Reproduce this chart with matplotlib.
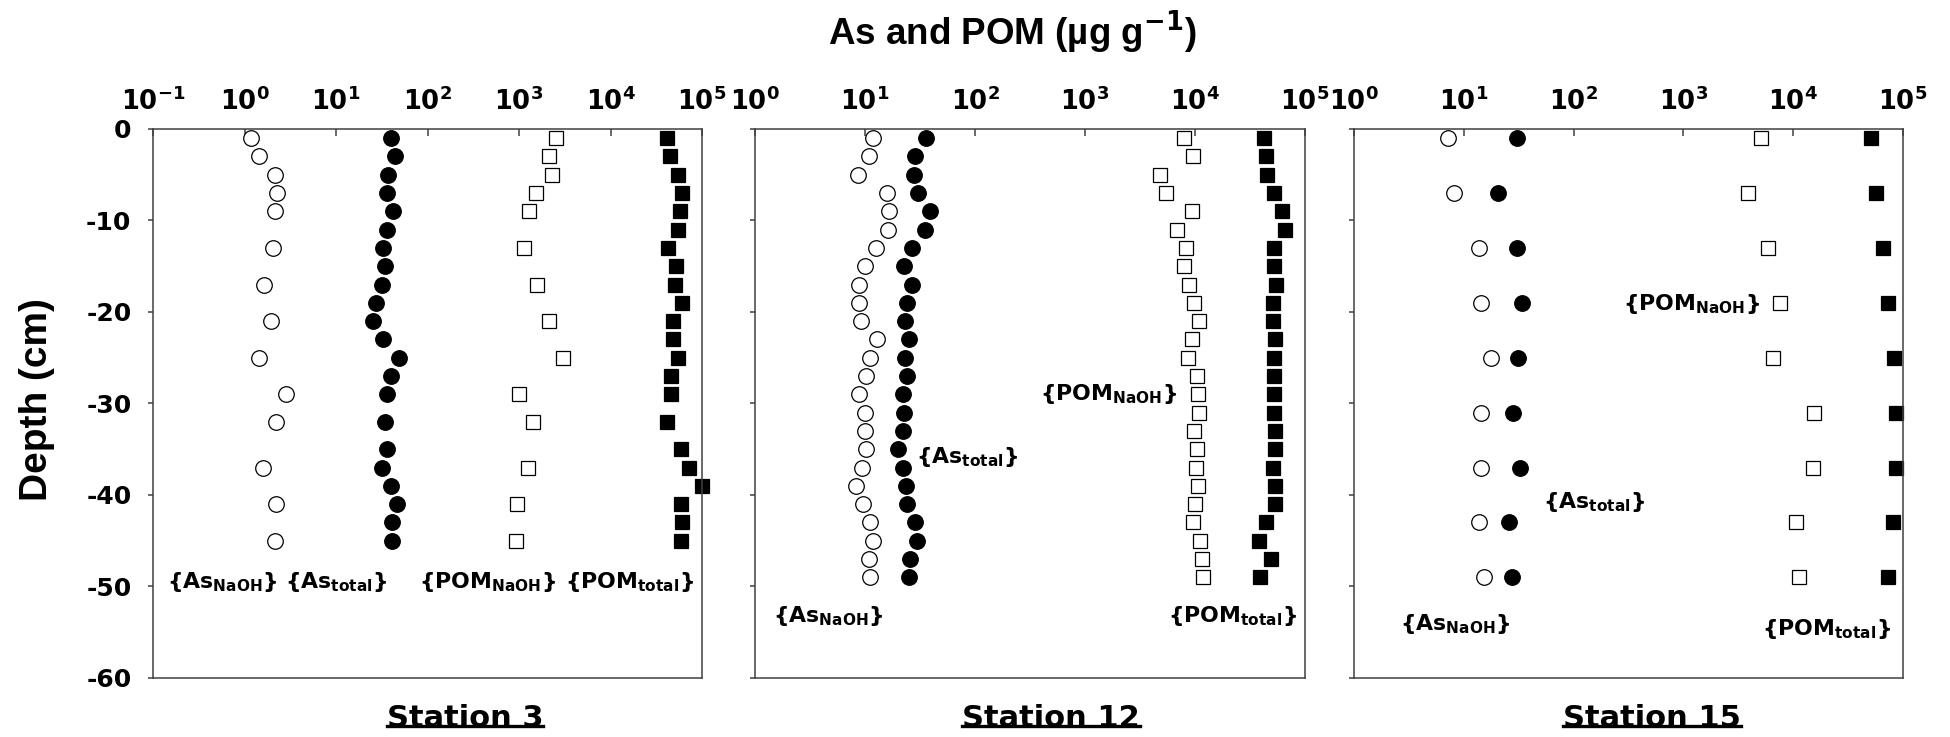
## depth profiles of As and POM at three stations
import matplotlib
matplotlib.use('Agg')
import matplotlib.pyplot as plt
from matplotlib.lines import Line2D
from matplotlib.ticker import FixedLocator, NullLocator

plt.rcParams['font.family'] = ['DejaVu Sans']
plt.rcParams['font.weight'] = 'bold'
plt.rcParams['mathtext.fontset'] = 'custom'
plt.rcParams['mathtext.rm'] = 'DejaVu Sans:bold'
plt.rcParams['mathtext.it'] = 'DejaVu Sans:bold'
plt.rcParams['mathtext.bf'] = 'DejaVu Sans:bold'
plt.rcParams['mathtext.default'] = 'rm'
plt.rcParams['axes.unicode_minus'] = False

##data (depth in cm, values in ug/g)
# Station 3
depth_sparse_3 = [-1, -3, -5, -7, -9, -13, -17, -21, -25, -29, -32, -37, -41, -45]
depth_full_3 = [-1, -3, -5, -7, -9, -11, -13, -15, -17, -19, -21, -23, -25, -27, -29,
                -32, -35, -37, -39, -41, -43, -45]
as_naoh_3 = [1.18, 1.45, 2.15, 2.29, 2.15, 2.07, 1.65, 1.93, 1.45, 2.81, 2.23, 1.59, 2.23, 2.14]
as_total_3 = [39.6, 43.6, 37.3, 36.4, 42.1, 36.4, 32.3, 34.3, 31.6, 27.3, 25.4, 32.3, 49.2,
              40.1, 35.6, 34.7, 36.4, 31.6, 40.1, 46.4, 41.1, 41.1]
pom_naoh_3 = [2550, 2150, 2320, 1540, 1270, 1120, 1560, 2100, 3020, 1000, 1410, 1240, 940, 917]
pom_total_3 = [41600, 44200, 55000, 59700, 57600, 54300, 42600, 51800, 50500, 59700, 48700,
               48700, 54300, 45800, 46400, 41100, 58300, 71600, 99000, 59000, 59700, 58300]

# Station 12
depth_12 = [-1, -3, -5, -7, -9, -11, -13, -15, -17, -19, -21, -23, -25, -27, -29, -31,
            -33, -35, -37, -39, -41, -43, -45, -47, -49]
as_naoh_12 = [11.7, 10.8, 8.7, 15.7, 16.4, 16.0, 12.6, 10.0, 8.9, 8.9, 9.2, 12.9, 11.1,
              10.2, 8.9, 10.0, 10.0, 10.2, 9.3, 8.3, 9.6, 11.1, 11.9, 10.8, 11.1]
as_total_12 = [35.9, 28.4, 28.1, 30.1, 39.1, 34.9, 26.9, 22.8, 26.5, 24.3, 23.2, 25.3, 23.2,
               24.3, 22.2, 22.6, 21.9, 19.9, 22.2, 23.6, 24.3, 28.4, 29.4, 25.8, 24.9]
pom_naoh_12 = [7980, 9580, 4780, 5490, 9410, 6890, 8190, 7980, 8780, 9740, 10800, 9410, 8630,
               10500, 10600, 10800, 9820, 10300, 10200, 10600, 10000, 9580, 11100, 11600, 11800]
pom_total_12 = [42000, 44200, 44600, 51700, 61000, 65400, 51700, 51700, 54000, 50900, 50900,
                53100, 51700, 52500, 52500, 52500, 53100, 53100, 50900, 52800, 53100, 43800,
                38100, 48600, 39100]

# Station 15
depth_15 = [-1, -7, -13, -19, -25, -31, -37, -43, -49]
as_naoh_15 = [7.2, 8.2, 13.8, 14.4, 17.5, 14.3, 14.3, 13.7, 15.1]
as_total_15 = [30.2, 20.4, 30.2, 33.6, 31.3, 27.9, 32.4, 25.6, 27.5]
pom_naoh_15 = [5070, 3900, 5930, 7500, 6520, 15400, 15000, 10600, 11400]
pom_total_15 = [51200, 56900, 65900, 72500, 82600, 85500, 85500, 81900, 72500]

depth_ticks = [0, -10, -20, -30, -40, -50, -60]
station_names = ['Station 3', 'Station 12', 'Station 15']

lbl_as_naoh = r'$\{As_{NaOH}\}$'
lbl_as_total = r'$\{As_{total}\}$'
lbl_pom_naoh = r'$\{POM_{NaOH}\}$'
lbl_pom_total = r'$\{POM_{total}\}$'

spinecol = '#404040'


def plotStation(ax, first_dec, d_naoh, as_naoh, pom_naoh, d_tot, as_tot, pom_tot, labelpos, showy):
    ##open symbols = NaOH extractable, filled = total
    ax.plot(as_naoh, d_naoh, linestyle='none', marker='o', ms=11.2, mfc='white',
            mec='black', mew=0.9, clip_on=False)
    ax.plot(as_tot, d_tot, linestyle='none', marker='o', ms=11.2, mfc='black',
            mec='black', mew=0.9, clip_on=False)
    ax.plot(pom_naoh, d_naoh, linestyle='none', marker='s', ms=9.6, mfc='white',
            mec='black', mew=0.9, clip_on=False)
    ax.plot(pom_tot, d_tot, linestyle='none', marker='s', ms=9.6, mfc='black',
            mec='black', mew=0.9, clip_on=False)

    ax.set_xscale('log')
    ax.set_xlim(10.0 ** first_dec, 1e5)
    ax.set_ylim(-60, 0)

    decs = list(range(first_dec, 6))
    ax.xaxis.tick_top()
    ax.xaxis.set_major_locator(FixedLocator([10.0 ** k for k in decs]))
    ax.xaxis.set_minor_locator(NullLocator())
    ax.set_xticklabels([r'$10^{%d}$' % k for k in decs])
    ax.tick_params(axis='x', direction='in', length=5, width=1.1, color=spinecol,
                   labelsize=18.5, pad=9)

    ax.set_yticks(depth_ticks)
    ax.tick_params(axis='y', direction='out', length=3.6, width=1.1, color=spinecol,
                   labelsize=18, pad=12, labelleft=showy)

    for s in ax.spines.values():
        s.set_color(spinecol)
        s.set_linewidth(1.1)

    for txt, (xf, yf) in labelpos.items():
        ax.text(xf, yf, txt, transform=ax.transAxes, fontsize=15.8,
                ha='left', va='baseline')


fig = plt.figure(figsize=(19.5, 7.37), dpi=100)

ax1 = fig.add_axes([0.0785, 0.0801, 0.2815, 0.7449])
ax2 = fig.add_axes([0.3872, 0.0801, 0.2821, 0.7449])
ax3 = fig.add_axes([0.6944, 0.0801, 0.2815, 0.7449])

plotStation(ax1, -1, depth_sparse_3, as_naoh_3, pom_naoh_3, depth_full_3, as_total_3, pom_total_3,
            {lbl_as_naoh: (0.026, 0.164), lbl_as_total: (0.240, 0.164),
             lbl_pom_naoh: (0.485, 0.164), lbl_pom_total: (0.750, 0.164)}, True)
plotStation(ax2, 0, depth_12, as_naoh_12, pom_naoh_12, depth_12, as_total_12, pom_total_12,
            {lbl_as_naoh: (0.033, 0.102), lbl_as_total: (0.293, 0.392),
             lbl_pom_naoh: (0.518, 0.506), lbl_pom_total: (0.751, 0.102)}, False)
plotStation(ax3, 0, depth_15, as_naoh_15, pom_naoh_15, depth_15, as_total_15, pom_total_15,
            {lbl_as_naoh: (0.084, 0.087), lbl_as_total: (0.344, 0.310),
             lbl_pom_naoh: (0.490, 0.670), lbl_pom_total: (0.743, 0.078)}, False)

##shared titles
fig.text(0.519, 1 - 45 / 737, 'As and POM (µg g$^{-1}$)', fontsize=26.5,
         family=['Liberation Sans', 'DejaVu Sans'], weight='bold', ha='center', va='baseline')
fig.text(37 / 1950, 1 - 400 / 737, 'Depth (cm)', fontsize=28, rotation=90,
         family=['Liberation Sans', 'DejaVu Sans'], weight='bold', ha='center', va='center')

##station names with the line through their base
station_x = [465 / 1950, 1051 / 1950, 1652 / 1950]
fig.canvas.draw()
renderer = fig.canvas.get_renderer()
for xc, name in zip(station_x, station_names):
    t = fig.text(xc, 1 - 727 / 737, name, fontsize=22, ha='center', va='baseline')
    bb = t.get_window_extent(renderer).transformed(fig.transFigure.inverted())
    fig.add_artist(Line2D([bb.x0, bb.x1], [1 - 726 / 737, 1 - 726 / 737],
                          transform=fig.transFigure, color='black', lw=2.4))

fig.savefig('out.png', dpi=100)
